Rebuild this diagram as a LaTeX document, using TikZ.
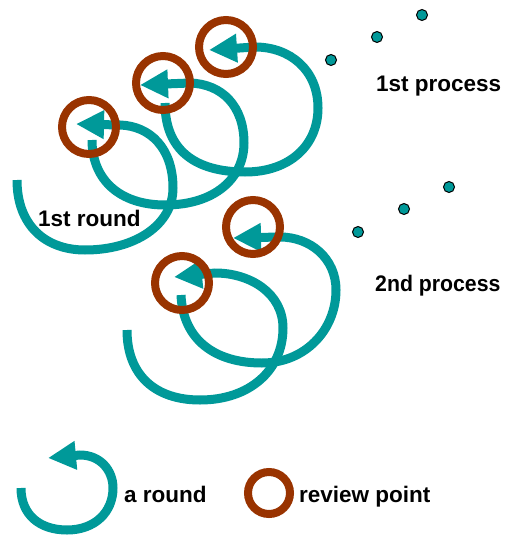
\documentclass[tikz,border=0pt]{standalone}
\usepackage{fontspec}
\setmainfont{Liberation Sans}
\usetikzlibrary{arrows.meta}
\definecolor{roundteal}{HTML}{009999}
\definecolor{revbrown}{HTML}{993300}
\tikzset{
  roundpath/.style={draw=roundteal, line width=9pt, -{Triangle[length=28pt,width=27pt]}},
  review/.style={circle, draw=revbrown, line width=8pt, minimum size=54pt, inner sep=0pt},
  smallreview/.style={review, minimum size=42pt},
  lbl/.style={anchor=base west, inner sep=0pt, text=black, font=\bfseries\fontsize{22.5}{27}\selectfont},
  procdot/.style={circle, fill=roundteal, draw=black, line width=1pt, minimum size=11pt, inner sep=0pt},
}
\begin{document}
\begin{tikzpicture}[x=1pt,y=-1pt]
\useasboundingbox[fill=white] (0,0) rectangle (504,535);

% ---- 1st process: three rounds
\draw[roundpath] (17,180) .. controls (17,225) and (45,250) .. (85,250)
  .. controls (135,250) and (173,225) .. (173,188)
  .. controls (173,148) and (150,126) .. (120,125) -- (76,124);
\draw[roundpath] (92,140) .. controls (92,180) and (120,205) .. (165,205)
  .. controls (215,205) and (244,178) .. (244,143)
  .. controls (244,106) and (222,84) .. (190,83) -- (140,85);
\draw[roundpath] (165,103) .. controls (165,150) and (195,172) .. (245,172)
  .. controls (290,172) and (318,145) .. (318,108)
  .. controls (318,70) and (290,47) .. (255,47) -- (209,50);

% ---- 2nd process: two rounds
\draw[roundpath] (127,330) .. controls (127,375) and (155,400) .. (200,400)
  .. controls (250,400) and (283,370) .. (283,328)
  .. controls (283,293) and (250,273) .. (215,273) -- (174,277);
\draw[roundpath] (181,295) .. controls (183,340) and (215,363) .. (262,363)
  .. controls (305,363) and (336,330) .. (336,290)
  .. controls (336,258) and (310,237) .. (280,237) -- (233,238);

% ---- legend round
\draw[roundpath] (21,488) .. controls (21,515) and (40,530) .. (67,530)
  .. controls (95,530) and (113,512) .. (113,488)
  .. controls (113,470) and (100,455) .. (80,455) -- (48,458);

% ---- review points
\node[review] (r1) at (89,127) {};
\node[review] (r2) at (163,83) {};
\node[review] (r3) at (226,47) {};
\node[review] (r4) at (182,283) {};
\node[review] (r5) at (253,227) {};
\node[smallreview] (rl) at (269,493) {};

% ---- process dots
\node[procdot] (d1) at (422,15) {};
\node[procdot] (d2) at (377,37) {};
\node[procdot] (d3) at (331,60) {};
\node[procdot] (d4) at (449,187) {};
\node[procdot] (d5) at (404,209) {};
\node[procdot] (d6) at (358,232) {};

% ---- texts
\node[lbl] (t1) at (38,226) {1st round};
\node[lbl] (t2) at (376,92) {1st process};
\node[lbl] (t3) at (375,291) {\scalebox{0.945}[1]{2nd process}};
\node[lbl] (t4) at (124,502) {a round};
\node[lbl] (t5) at (299,502) {review point};
\end{tikzpicture}
\end{document}
